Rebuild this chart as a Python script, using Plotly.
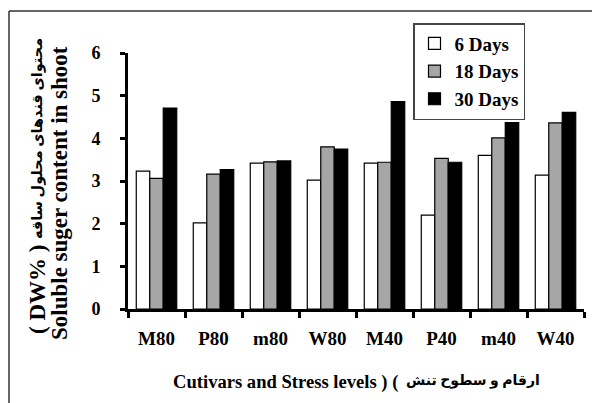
import plotly.graph_objects as go

categories = ["M80", "P80", "m80", "W80", "M40", "P40", "m40", "W40"]
series_names = ["6 Days", "18 Days", "30 Days"]
days6 = [3.23, 2.02, 3.42, 3.02, 3.42, 2.20, 3.60, 3.14]
days18 = [3.06, 3.16, 3.45, 3.80, 3.44, 3.53, 4.01, 4.36]
days30 = [4.71, 3.27, 3.47, 3.75, 4.86, 3.44, 4.37, 4.61]
yticks = [0, 1, 2, 3, 4, 5, 6]

FONT = "Liberation Serif, Times New Roman, DejaVu Sans"
colors = ["#ffffff", "#a6a6a6", "#000000"]

fig = go.Figure()
for name, vals, col, g in zip(series_names, [days6, days18, days30], colors, ["a", "b", "c"]):
    fig.add_trace(go.Bar(
        x=categories, y=vals, name=name, legendgroup=g,
        marker=dict(color=col, line=dict(color="#000000", width=1.2)),
    ))

# page body has an 8px margin, so figure coords = screen coords - 8
OFF = 8
W, H = 600, 403
PL, PR, PT, PB = 128, 584, 53, 309          # plot area in screen pixels
L, R, T, B = PL - OFF, W - (PR - OFF), PT - OFF, H - (PB - OFF)
pw, ph = W - L - R, H - T - B

def px_x(x):
    return (x - OFF - L) / pw

def px_y(y):
    return (H - B - (y - OFF)) / ph

def bold(size):
    return dict(family=FONT, size=size, color="black", weight="bold")

fig.update_layout(
    width=W, height=H,
    margin=dict(l=L, r=R, t=T, b=B, pad=0, autoexpand=False),
    paper_bgcolor="white", plot_bgcolor="white",
    barmode="group", bargap=0.29, bargroupgap=0,
    font=dict(family=FONT, color="black"),
    showlegend=True,
    legend=dict(
        x=px_x(413), y=px_y(23), xanchor="left", yanchor="top",
        bordercolor="#444444", borderwidth=1.5, bgcolor="white",
        font=bold(19), tracegroupgap=0, traceorder="grouped",
    ),
    xaxis=dict(
        automargin=False,
        showline=True, linecolor="black", linewidth=3,
        ticks="outside", ticklen=6, tickwidth=3, tickcolor="black",
        tickson="boundaries", showgrid=False,
        tickfont=bold(19), ticklabelstandoff=10,
    ),
    yaxis=dict(
        automargin=False,
        range=[0, 6], tickvals=yticks, showline=True, linecolor="black", linewidth=3,
        ticks="outside", ticklen=5, tickwidth=3, tickcolor="black",
        showgrid=False, zeroline=False,
        tickfont=bold(18), ticklabelstandoff=16,
    ),
    shapes=[
        dict(type="line", xref="paper", yref="paper", x0=px_x(9), x1=px_x(615), y0=px_y(11), y1=px_y(11),
             line=dict(color="#333333", width=1.5)),
        dict(type="line", xref="paper", yref="paper", x0=px_x(9), x1=px_x(9), y0=px_y(11), y1=px_y(420),
             line=dict(color="#333333", width=1.5)),
    ],
    annotations=[
        dict(text="( DW% )", xref="paper", yref="paper",
             x=px_x(37), y=px_y(290), xanchor="center", yanchor="middle",
             textangle=-90, showarrow=False, font=bold(23)),
        dict(text="محتوای قندهای محلول ساقه", xref="paper", yref="paper",
             x=px_x(37), y=px_y(139), xanchor="center", yanchor="middle",
             textangle=-90, showarrow=False, font=bold(14.5)),
        dict(text="Soluble suger content in shoot", xref="paper", yref="paper",
             x=px_x(59), y=px_y(193), xanchor="center", yanchor="middle",
             textangle=-90, showarrow=False, font=bold(23)),
        dict(text="Cutivars and Stress levels ) (", xref="paper", yref="paper",
             x=px_x(400), y=px_y(382), xanchor="right", yanchor="middle", showarrow=False,
             font=bold(18.6)),
        dict(text="ارقام و سطوح تنش", xref="paper", yref="paper",
             x=px_x(404), y=px_y(381), xanchor="left", yanchor="middle", showarrow=False,
             font=bold(14)),
    ],
)

fig.write_html("out.html")
